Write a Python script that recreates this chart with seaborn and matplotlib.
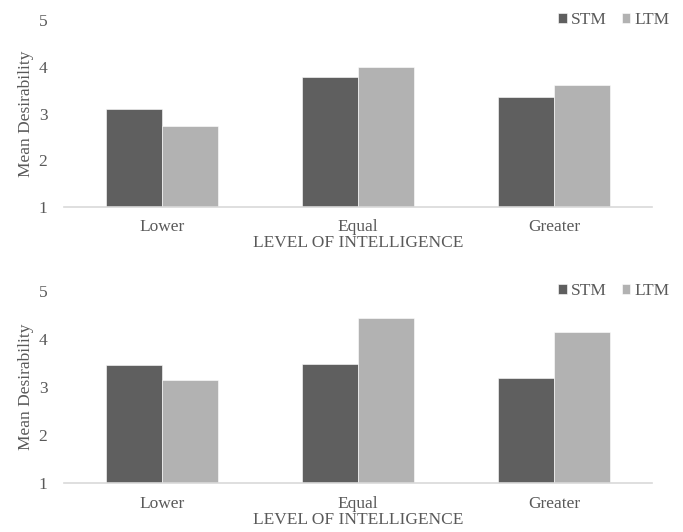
"""Mean desirability by level of intelligence, STM vs LTM (two panels)."""
import matplotlib
matplotlib.use("Agg")
import matplotlib.pyplot as plt
import pandas as pd
import seaborn as sns

levels = ["Lower", "Equal", "Greater"]
terms = ["STM", "LTM"]

# panel 1 (top)
top_stm = [3.10, 3.78, 3.35]
top_ltm = [2.73, 4.00, 3.61]
# panel 2 (bottom)
bottom_stm = [3.45, 3.49, 3.18]
bottom_ltm = [3.15, 4.43, 4.14]

colors = {"STM": "#5f5f5f", "LTM": "#b2b2b2"}
text_color = "#595959"
axis_color = "#d9d9d9"
fs = 12.5

sns.set_theme(style="white")
plt.rcParams["font.family"] = ["Liberation Serif", "DejaVu Serif"]
plt.rcParams["font.size"] = fs


def make_frame(stm, ltm):
    rows = []
    for lvl, s, l in zip(levels, stm, ltm):
        rows.append({"Level": lvl, "Term": "STM", "Value": s})
        rows.append({"Level": lvl, "Term": "LTM", "Value": l})
    return pd.DataFrame(rows)


def draw_panel(ax, df):
    sns.barplot(data=df, x="Level", y="Value", hue="Term", order=levels,
                hue_order=terms, palette=colors, width=0.57, ax=ax,
                edgecolor="white", linewidth=0.4, errorbar=None,
                saturation=1)
    ax.set_ylim(1, 5)
    ax.set_yticks([1, 2, 3, 4, 5])
    ax.set_xlim(-0.5, 2.5)
    for side in ["top", "right", "left"]:
        ax.spines[side].set_visible(False)
    ax.spines["bottom"].set_color(axis_color)
    ax.spines["bottom"].set_linewidth(1.2)
    ax.tick_params(axis="both", length=0, colors=text_color, labelsize=fs)
    ax.tick_params(axis="y", pad=12)
    ax.tick_params(axis="x", pad=9)
    ax.set_xlabel("LEVEL OF INTELLIGENCE", color=text_color, fontsize=fs, labelpad=0)
    ax.set_ylabel("Mean Desirability", color=text_color, fontsize=fs, labelpad=3)
    ax.legend(loc="center right", bbox_to_anchor=(1.042, 1.0), ncol=2,
              frameon=False, handlelength=0.5, handleheight=0.5,
              handletextpad=0.25, columnspacing=0.85, labelcolor=text_color,
              fontsize=fs, borderaxespad=0)


fig = plt.figure(figsize=(6.83, 5.32), dpi=100)
ax_top = fig.add_axes([0.0937, 0.611, 0.861, 0.351])
ax_bot = fig.add_axes([0.0937, 0.092, 0.861, 0.361])

draw_panel(ax_top, make_frame(top_stm, top_ltm))
draw_panel(ax_bot, make_frame(bottom_stm, bottom_ltm))

fig.savefig("out.png", dpi=100)
